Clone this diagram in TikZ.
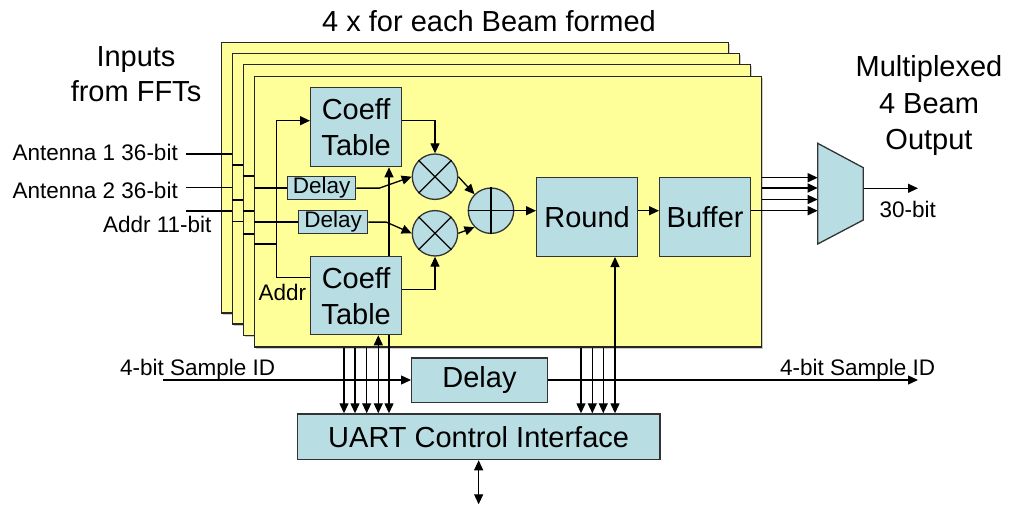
\documentclass[tikz,border=0pt]{standalone}
\usepackage{fontspec}
\setmainfont{Liberation Sans}
\usetikzlibrary{arrows.meta,calc,shadows}
\definecolor{yel}{HTML}{FFFF99}
\definecolor{blu}{HTML}{B8DEE3}
\definecolor{edge}{HTML}{333333}
\newcommand\fbig{\fontsize{29}{36}\selectfont}
\newcommand\fsml{\fontsize{22.5}{27}\selectfont}
\pgfdeclarelayer{back}\pgfdeclarelayer{mid}
\pgfsetlayers{back,mid,main}
\begin{document}
\begin{tikzpicture}[x=1pt,y=-1pt,
  layer/.style={draw=black!85,fill=yel,line width=1.3pt,anchor=north west,minimum width=507pt,minimum height=270.5pt,inner sep=0pt,
    drop shadow={shadow xshift=1.8pt,shadow yshift=-1.8pt,fill=black!20,opacity=1}},
  blk/.style={draw=edge,fill=blu,line width=1.3pt,anchor=north west,inner sep=0pt,align=center,font=\fbig},
  sblk/.style={blk,font=\fsml},
  circ/.style={draw=edge,fill=blu,line width=1.3pt,circle,minimum size=45.4pt,inner sep=0pt},
  ln/.style={line width=1.3pt,draw=black},
  arr/.style={ln,-{Triangle[length=10pt,width=9pt]}},
  darr/.style={ln,{Triangle[length=10pt,width=9pt]}-{Triangle[length=10pt,width=9pt]}},
  lab/.style={anchor=base,inner sep=0pt,font=\fbig},
  slab/.style={anchor=base,inner sep=0pt,font=\fsml},
]
\useasboundingbox (0,0) rectangle (1009,505);

% stacked layers
\begin{pgfonlayer}{back}
\node[layer] (L1) at (220.7,41.7) {};
\node[layer] (L2) at (231.7,52.7) {};
\node[layer] (L3) at (242.7,64) {};
\node[layer] (L4) at (254,75.7) {};
\end{pgfonlayer}

% titles
\node[lab] (title) at (489,32) {4 x for each Beam formed};
\node[lab] (inp1) at (136,66.7) {Inputs};
\node[lab] (inp2) at (136,101.7) {from FFTs};
\node[lab] (mx1) at (929,76.7) {Multiplexed};
\node[lab] (mx2) at (929,113.5) {4 Beam};
\node[lab] (mx3) at (929,150) {Output};

% input labels
\node[slab,anchor=base east] (la1) at (178,160.7) {Antenna 1 36-bit};
\node[slab,anchor=base east] (la2) at (178,198.3) {Antenna 2 36-bit};
\node[slab,anchor=base east] (laddr) at (211.7,232.7) {Addr 11-bit};
\node[slab,anchor=base west] (addrl) at (258.3,300.7) {Addr};
\node[slab,anchor=base west] (b30) at (879.3,217.3) {30-bit};
\node[slab,anchor=base west] (sidl) at (120,375) {4-bit Sample ID};
\node[slab,anchor=base west] (sidr) at (780,375) {4-bit Sample ID};

% blocks
\node[blk,minimum width=91pt,minimum height=79pt] (ct1) at (310,87) {Coeff\\Table};
\node[blk,minimum width=91pt,minimum height=78pt] (ct2) at (310,256) {Coeff\\Table};
\node[sblk,minimum width=68pt,minimum height=23pt] (d1) at (287,176) {\raisebox{-2pt}{Delay}};
\node[sblk,minimum width=69pt,minimum height=23pt] (d2) at (298,210) {\raisebox{-2pt}{Delay}};
\node[blk,minimum width=101pt,minimum height=79pt] (round) at (536,176.7) {Round};
\node[blk,minimum width=91pt,minimum height=79pt] (buf) at (659,176.7) {Buffer};
\node[blk,minimum width=135.7pt,minimum height=44.7pt] (d3) at (411,357.3) {Delay};
\node[blk,minimum width=362.6pt,minimum height=45.7pt] (uart) at (296.7,413.3) {UART Control Interface};

\node[circ] (m1) at (435,176.7) {};
\node[circ] (m2) at (435,233.3) {};
\node[circ] (add) at (491,210.7) {};
\draw[ln] (m1.45) -- (m1.225) (m1.135) -- (m1.315);
\draw[ln] (m2.45) -- (m2.225) (m2.135) -- (m2.315);
\draw[ln] (add.north) -- (add.south) (add.west) -- (add.east);

% mux
\draw[draw=edge,fill=blu,line width=1.3pt] (817.7,143.3) coordinate (muxTL) -- (863.3,167.7) coordinate (muxTR)
  -- (863.3,220) coordinate (muxBR) -- (817.7,244) coordinate (muxBL) -- cycle;

\begin{pgfonlayer}{mid}
% input staircases
\coordinate (a1in) at (186,154);
\coordinate (a2in) at (186,187.7);
\coordinate (adin) at (186,211);
\draw[ln] (a1in) -- (a1in -| L2.west);
\draw[ln] (L2.west |- 0,165) -- (L3.west |- 0,165);
\draw[ln] (L3.west |- 0,176) -- (L4.west |- 0,176);
\draw[ln] (L4.west |- d1.west) -- (d1.west);
\draw[ln] (a2in) -- (a2in -| L2.west);
\draw[ln] (L2.west |- 0,200) -- (L3.west |- 0,200);
\draw[ln] (L3.west |- 0,211) -- (L4.west |- 0,211);
\draw[ln] (L4.west |- d2.west) -- (d2.west);
\draw[ln] (adin) -- (adin -| L2.west);
\draw[ln] (L2.west |- 0,221.7) -- (L3.west |- 0,221.7);
\draw[ln] (L3.west |- 0,234) -- (L4.west |- 0,234);
\draw[ln] (L4.west |- 0,244) -- (276.7,244) coordinate (abus);
% address bus to coeff tables
\draw[arr] (ct2.west |- 0,277.7) -| (abus) |- (ct1.west |- 0,120.7);
% coeff -> multipliers
\draw[arr] (ct1.east |- 0,120.7) -| (m1.north);
\draw[arr] (ct2.east |- 0,289.3) -| (m2.south);
\draw[arr] (d1.east) -- ++(23,0) -- (m1.west);
\draw[arr] (d2.east) -- ++(18,0) -- (m2.west);
\draw[arr] (m1.east) -- (add.135);
\draw[arr] (m2.east) -- (add.225);
\draw[arr] (add.east) -- (round.west |- add.east);
\draw[arr] (round.east |- add.east) -- (buf.west |- add.east);
% to mux
\foreach \yy in {177.7,188,199.5} \draw[arr] (L4.east |- 0,\yy) -- (muxTL |- 0,\yy);
\draw[arr] (buf.east |- add.east) -- (muxTL |- add.east);
\draw[arr] (muxTR |- 0,188.3) -- (918,188.3) coordinate (mout);
% control lines
\foreach \xx in {344,355,366.7,581,592.3,603.3} \draw[arr] (\xx,0 |- L4.south) -- (\xx,0 |- uart.north);
\draw[darr] (378.3,0 |- ct2.south) -- (378.3,0 |- uart.north);
\draw[darr] (389,0 |- ct1.south) -- (389,0 |- uart.north);
\draw[darr] (615,0 |- round.south) -- (615,0 |- uart.north);
% sample id
\coordinate (sin) at (163,380);
\draw[arr] (sin) -- (d3.west |- sin);
\draw[arr] (d3.east |- sin) -- (918,380) coordinate (sout);
% uart io
\draw[darr] (uart.south) -- ++(0,44) coordinate (uio);
\end{pgfonlayer}
\end{tikzpicture}
\end{document}
